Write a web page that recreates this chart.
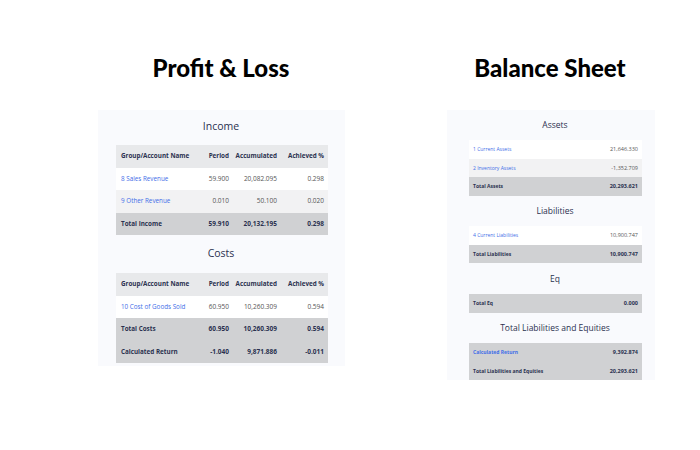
<!DOCTYPE html>
<html><head><meta charset="utf-8">
<script src="https://cdn.jsdelivr.net/npm/chart.js@4"></script>
<style>
body{margin:0;width:700px;height:450px;background:#fff;position:relative;font-family:"Open Sans",Lato,sans-serif;overflow:hidden}
.a{position:absolute;white-space:nowrap}
.t{font-family:Lato,sans-serif;font-weight:900;font-size:24px;color:#000;transform:translateX(-50%)}
.s{font-size:10px;color:#2b3150;transform:translateX(-50%)}
</style></head><body>
<script>
const incomeNames=["8 Sales Revenue","9 Other Revenue","Total Income"];
const incomePeriod=["59.900","0.010","59.910"];
const incomeAccum=["20,082.095","50.100","20,132.195"];
const incomeAch=["0.298","0.020","0.298"];
const costNames=["10 Cost of Goods Sold","Total Costs","Calculated Return"];
const costPeriod=["60.950","60.950","-1.040"];
const costAccum=["10,260.309","10,260.309","9,871.886"];
const costAch=["0.594","0.594","-0.011"];
const headers=["Group/Account Name","Period","Accumulated","Achieved %"];
const assetNames=["1 Current Assets","2 Inventory Assets","Total Assets"];
const assetVals=["21,646.330","-1,352.709","20,293.621"];
const liabNames=["4 Current Liabilities","Total Liabilities"];
const liabVals=["10,900.747","10,900.747"];
const eqNames=["Total Eq"];
const eqVals=["0.000"];
const tleNames=["Calculated Return","Total Liabilities and Equities"];
const tleVals=["9,392.874","20,293.621"];

function box(x,y,w,h,bg){const d=document.createElement('div');d.className='a';d.style.cssText=`left:${x}px;top:${y}px;width:${w}px;height:${h}px;background:${bg}`;document.body.appendChild(d);}
function txt(x,y,s,cls,style){const d=document.createElement('div');d.className='a '+(cls||'');d.textContent=s;d.style.left=x+'px';d.style.top=y+'px';if(style)d.style.cssText+=style;document.body.appendChild(d);return d;}
function rtxt(x,y,s,style){const d=txt(0,y,s,'',style);d.style.left='';d.style.right=(700-x)+'px';return d;}

txt(221,53,"Profit & Loss","t");
txt(550,53,"Balance Sheet","t");
box(98,110,247,256,'#f9fafd');
box(447,110,208,270,'#f9fafd');

const colR=[null,229,277,324];
function leftTable(y0,names,cols,nonLink){
  const H=22.5;
  box(116,y0,212,H,'#e8e9eb');
  headers.forEach((h,i)=>{const st='font-size:6.3px;font-weight:700;color:#2b3150;line-height:'+H+'px';
    if(i==0)txt(121,y0,h,'',st);else rtxt(colR[i],y0,h,st);});
  names.forEach((n,r)=>{
    const y=y0+H*(r+1);const tot=r>=nonLink;
    box(116,y,212,H,tot?'#d0d1d3':(r%2?'#f2f2f3':'#ffffff'));
    const st='font-size:6.3px;line-height:'+H+'px;'+(tot?'font-weight:700;color:#2b3150':'color:#3f6ee8');
    txt(121,y,n,'',st);
    cols.forEach((c,i)=>rtxt(colR[i+1],y,c[r],'font-size:6.5px;line-height:'+H+'px;'+(tot?'font-weight:700;color:#2b3150':'color:#555')));
  });
}
txt(221,119,"Income","s",'font-size:10.5px');
leftTable(145,incomeNames,[incomePeriod,incomeAccum,incomeAch],2);
txt(221,246,"Costs","s",'font-size:10.5px');
leftTable(273,costNames,[costPeriod,costAccum,costAch],1);

function rightTable(y0,names,vals,nonLink,linkTot){
  const H=18.5;
  names.forEach((n,r)=>{
    const y=y0+H*r;const tot=r>=nonLink;
    box(469,y,173,H,tot?'#d0d1d3':(r%2?'#f2f2f3':'#ffffff'));
    const lk=!tot||(linkTot&&r==0);
    txt(473,y,n,'','font-size:5px;line-height:'+H+'px;'+(lk?'color:#3f6ee8;':'color:#2b3150;')+(tot?'font-weight:700':''));
    rtxt(638,y,vals[r],'font-size:5.5px;line-height:'+H+'px;'+(tot?'font-weight:700;color:#2b3150':'color:#555'));
  });
}
const st2='font-size:8.5px';
txt(555,119,"Assets","s",st2);
rightTable(140,assetNames,assetVals,2);
txt(555,205,"Liabilities","s",st2);
rightTable(226,liabNames,liabVals,1);
txt(555,273,"Eq","s",st2);
rightTable(294,eqNames,eqVals,0);
txt(555,322,"Total Liabilities and Equities","s",st2);
rightTable(343,tleNames,tleVals,0,true);
</script>
</body></html>
